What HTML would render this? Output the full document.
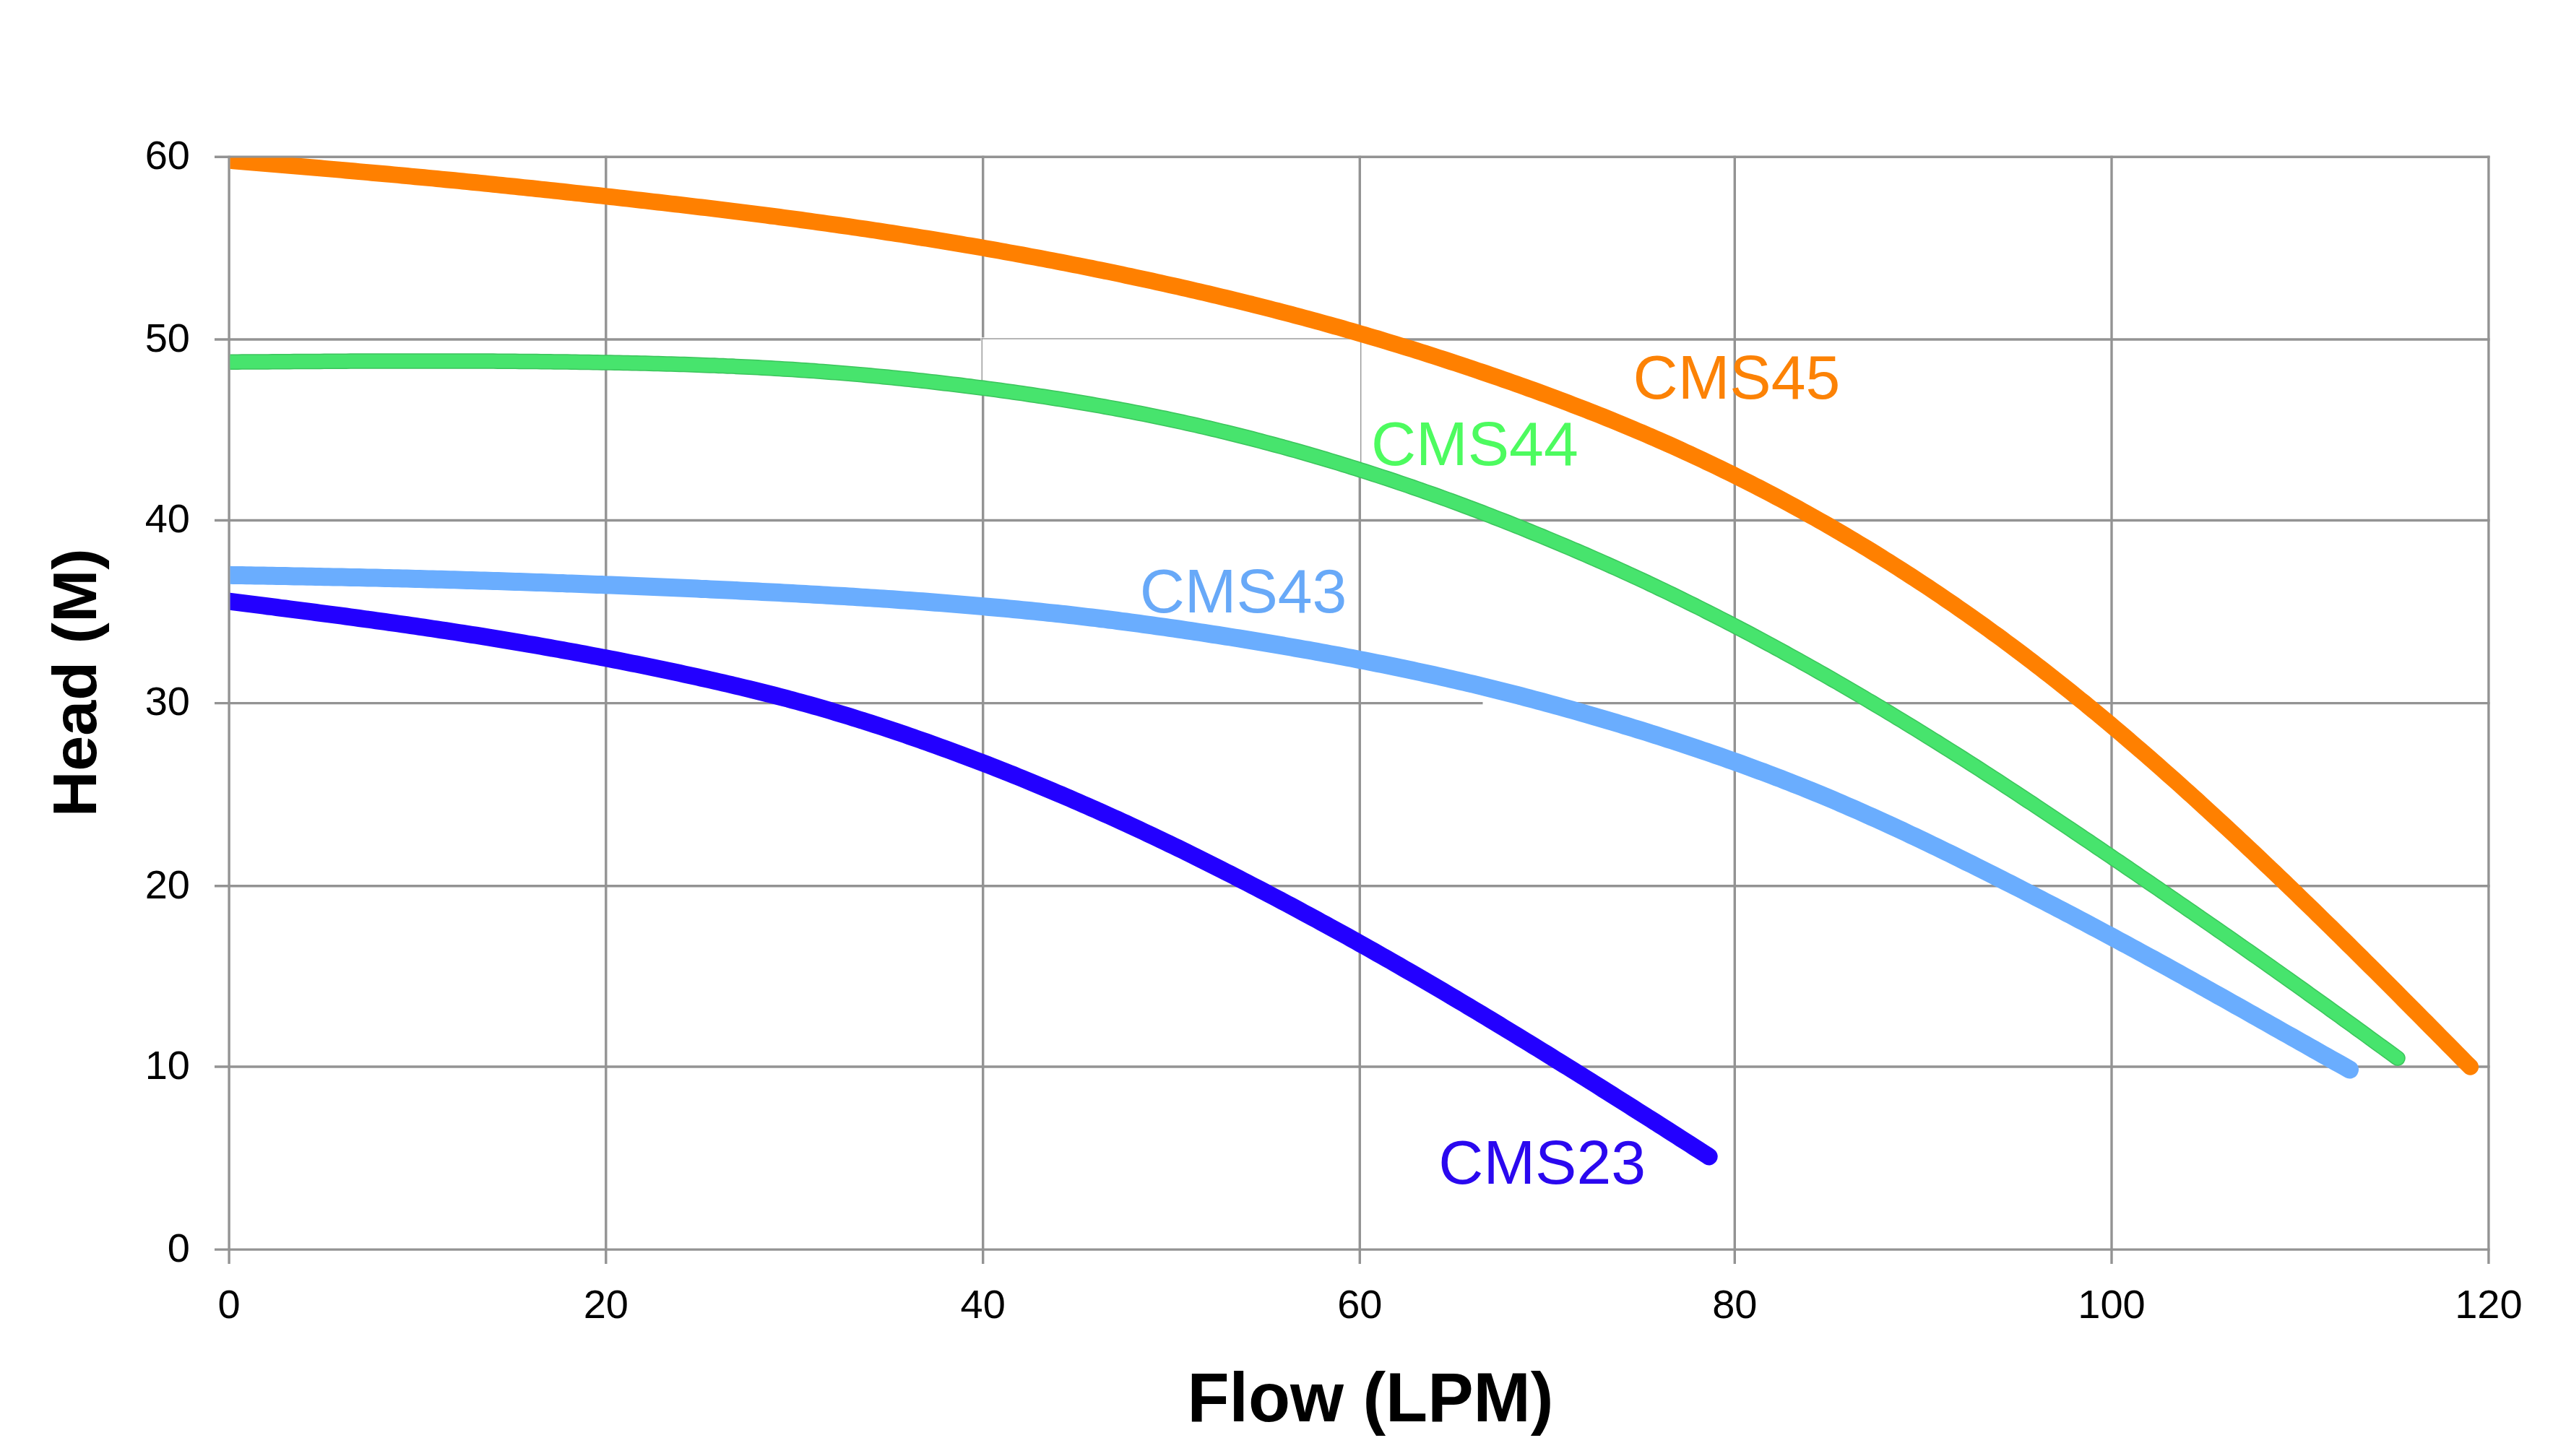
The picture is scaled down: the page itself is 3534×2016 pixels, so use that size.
<!DOCTYPE html>
<html><head><meta charset="utf-8"><title>Pump curves</title>
<style>
html,body{margin:0;padding:0;background:#fff;}
svg{display:block;}
text{font-family:"Liberation Sans",sans-serif;}
</style></head>
<body>
<svg width="3534" height="2016" viewBox="0 0 3534 2016">
<rect width="3534" height="2016" fill="#ffffff"/>
<defs><clipPath id="plot"><rect x="318.6" y="218.6" width="3200" height="1600"/></clipPath></defs>
<g stroke="#939393" stroke-width="3.4" fill="none">
<line x1="297" y1="217.2" x2="3446.5" y2="217.2"/>
<line x1="297" y1="470.0" x2="3446.5" y2="470.0"/>
<line x1="297" y1="720.5" x2="3446.5" y2="720.5"/>
<line x1="297" y1="973.6" x2="3446.5" y2="973.6"/>
<line x1="297" y1="1226.8" x2="3446.5" y2="1226.8"/>
<line x1="297" y1="1477.0" x2="3446.5" y2="1477.0"/>
<line x1="297" y1="1730.1" x2="3446.5" y2="1730.1"/>
<line x1="317.1" y1="215.7" x2="317.1" y2="1750"/>
<line x1="838.8" y1="215.7" x2="838.8" y2="1750"/>
<line x1="1360.7" y1="215.7" x2="1360.7" y2="1750"/>
<line x1="1882.3" y1="215.7" x2="1882.3" y2="1750"/>
<line x1="2401.3" y1="215.7" x2="2401.3" y2="1750"/>
<line x1="2923.0" y1="215.7" x2="2923.0" y2="1750"/>
<line x1="3444.9" y1="215.7" x2="3444.9" y2="1750"/>
</g>
<polygon fill="#fff" points="1357.6,467.2 1885.2,467.2 1885.2,651.4 1876.3,648.5 1867.3,645.8 1858.4,643.0 1849.4,640.3 1840.5,637.6 1831.5,634.9 1822.6,632.2 1813.7,629.6 1804.7,627.1 1795.8,624.5 1786.8,622.0 1777.9,619.5 1768.9,617.1 1760.0,614.7 1751.1,612.3 1742.1,609.9 1733.2,607.6 1724.2,605.3 1715.3,603.0 1706.4,600.8 1697.4,598.6 1688.5,596.5 1679.5,594.3 1670.6,592.2 1661.6,590.1 1652.7,588.1 1643.8,586.1 1634.8,584.1 1625.9,582.2 1616.9,580.3 1608.0,578.4 1599.0,576.5 1590.1,574.7 1581.2,572.9 1572.2,571.2 1563.3,569.5 1554.3,567.8 1545.4,566.1 1536.4,564.5 1527.5,562.8 1518.6,561.3 1509.6,559.7 1500.7,558.2 1491.7,556.7 1482.8,555.2 1473.9,553.7 1464.9,552.3 1456.0,550.9 1447.0,549.5 1438.1,548.1 1429.1,546.8 1420.2,545.5 1411.3,544.2 1402.3,542.9 1393.4,541.7 1384.4,540.5 1375.5,539.3 1366.5,538.1 1357.6,536.9"/><g stroke="#9c9c9c" stroke-width="1.5" fill="none"><line x1="1358.6" y1="468.9" x2="1884.4" y2="468.9"/><line x1="1359.3" y1="468.2" x2="1359.3" y2="537.1"/><line x1="1883.7" y1="468.2" x2="1883.7" y2="650.9"/></g><rect x="2052.5" y="970" width="48" height="7.5" fill="#fff"/>
<g fill="none" stroke-linecap="round" stroke-linejoin="round" clip-path="url(#plot)">
<path d="M317.0 222.2 L323.0 222.7 L329.0 223.2 L335.0 223.7 L341.0 224.2 L347.0 224.7 L353.0 225.2 L359.0 225.7 L365.0 226.2 L371.0 226.7 L377.0 227.2 L383.0 227.7 L389.0 228.2 L395.0 228.7 L401.0 229.3 L407.0 229.8 L413.0 230.3 L419.0 230.8 L425.0 231.3 L431.0 231.8 L437.0 232.3 L443.0 232.8 L449.0 233.4 L455.0 233.9 L461.0 234.4 L467.0 234.9 L473.0 235.4 L479.0 236.0 L485.0 236.5 L491.0 237.0 L497.0 237.6 L503.0 238.1 L509.0 238.6 L515.0 239.2 L521.0 239.7 L527.0 240.2 L533.0 240.8 L539.0 241.3 L545.0 241.9 L551.0 242.4 L557.0 243.0 L563.0 243.5 L569.0 244.1 L575.0 244.7 L581.0 245.2 L587.0 245.8 L593.0 246.4 L599.0 246.9 L605.0 247.5 L611.0 248.1 L617.0 248.7 L623.0 249.3 L629.0 249.8 L635.0 250.4 L641.0 251.0 L647.0 251.6 L653.0 252.2 L659.0 252.8 L665.0 253.4 L671.0 254.0 L677.0 254.6 L683.0 255.2 L689.0 255.9 L695.0 256.5 L701.0 257.1 L707.0 257.7 L713.0 258.3 L719.0 259.0 L725.0 259.6 L731.0 260.2 L737.0 260.8 L743.0 261.5 L749.0 262.1 L755.0 262.7 L761.0 263.4 L767.0 264.0 L773.0 264.7 L779.0 265.3 L785.0 266.0 L791.0 266.6 L797.0 267.3 L803.0 267.9 L809.0 268.6 L815.0 269.2 L821.0 269.9 L827.0 270.5 L833.0 271.2 L839.0 271.9 L845.0 272.5 L851.0 273.2 L857.0 273.9 L863.0 274.5 L869.0 275.2 L875.0 275.9 L881.0 276.6 L887.0 277.2 L893.0 277.9 L899.0 278.6 L905.0 279.3 L911.0 280.0 L917.0 280.7 L923.0 281.4 L929.0 282.1 L935.0 282.7 L941.0 283.4 L947.0 284.2 L953.0 284.9 L959.0 285.6 L965.0 286.3 L971.0 287.0 L977.0 287.7 L983.0 288.4 L989.0 289.2 L995.0 289.9 L1001.0 290.6 L1007.0 291.4 L1013.0 292.1 L1019.0 292.9 L1025.0 293.6 L1031.0 294.4 L1037.0 295.1 L1043.0 295.9 L1049.0 296.6 L1055.0 297.4 L1061.0 298.2 L1067.0 299.0 L1073.0 299.7 L1079.0 300.5 L1085.0 301.3 L1091.0 302.1 L1097.0 302.9 L1103.0 303.7 L1109.0 304.5 L1115.0 305.3 L1121.0 306.1 L1127.0 307.0 L1133.0 307.8 L1139.0 308.6 L1145.0 309.5 L1151.0 310.3 L1157.0 311.2 L1163.0 312.0 L1169.0 312.9 L1175.0 313.7 L1181.0 314.6 L1187.0 315.5 L1193.0 316.4 L1199.0 317.2 L1205.0 318.1 L1211.0 319.0 L1217.0 319.9 L1223.0 320.8 L1229.0 321.8 L1235.0 322.7 L1241.0 323.6 L1247.0 324.5 L1253.0 325.5 L1259.0 326.4 L1265.0 327.3 L1271.0 328.3 L1277.0 329.3 L1283.0 330.2 L1289.0 331.2 L1295.0 332.2 L1301.0 333.1 L1307.0 334.1 L1313.0 335.1 L1319.0 336.1 L1325.0 337.1 L1331.0 338.1 L1337.0 339.2 L1343.0 340.2 L1349.0 341.2 L1355.0 342.2 L1361.0 343.3 L1367.0 344.3 L1373.0 345.4 L1379.0 346.4 L1385.0 347.5 L1391.0 348.6 L1397.0 349.7 L1403.0 350.8 L1409.0 351.8 L1415.0 352.9 L1421.0 354.1 L1427.0 355.2 L1433.0 356.3 L1439.0 357.4 L1445.0 358.5 L1451.0 359.7 L1457.0 360.8 L1463.0 362.0 L1469.0 363.1 L1475.0 364.3 L1481.0 365.5 L1487.0 366.7 L1493.0 367.8 L1499.0 369.0 L1505.0 370.2 L1511.0 371.4 L1517.0 372.7 L1523.0 373.9 L1529.0 375.1 L1535.0 376.3 L1541.0 377.6 L1547.0 378.8 L1553.0 380.1 L1559.0 381.4 L1565.0 382.6 L1571.0 383.9 L1577.0 385.2 L1583.0 386.5 L1589.0 387.8 L1595.0 389.1 L1601.0 390.4 L1607.0 391.7 L1613.0 393.1 L1619.0 394.4 L1625.0 395.8 L1631.0 397.1 L1637.0 398.5 L1643.0 399.8 L1649.0 401.2 L1655.0 402.6 L1661.0 404.0 L1667.0 405.4 L1673.0 406.8 L1679.0 408.2 L1685.0 409.6 L1691.0 411.1 L1697.0 412.5 L1703.0 414.0 L1709.0 415.4 L1715.0 416.9 L1721.0 418.4 L1727.0 419.9 L1733.0 421.3 L1739.0 422.9 L1745.0 424.4 L1751.0 425.9 L1757.0 427.4 L1763.0 429.0 L1769.0 430.5 L1775.0 432.1 L1781.0 433.6 L1787.0 435.2 L1793.0 436.8 L1799.0 438.4 L1805.0 440.0 L1811.0 441.6 L1817.0 443.3 L1823.0 444.9 L1829.0 446.5 L1835.0 448.2 L1841.0 449.9 L1847.0 451.6 L1853.0 453.2 L1859.0 454.9 L1865.0 456.7 L1871.0 458.4 L1877.0 460.1 L1883.0 461.9 L1889.0 463.6 L1895.0 465.4 L1901.0 467.2 L1907.0 468.9 L1913.0 470.7 L1919.0 472.6 L1925.0 474.4 L1931.0 476.2 L1937.0 478.1 L1943.0 479.9 L1949.0 481.8 L1955.0 483.6 L1961.0 485.5 L1967.0 487.4 L1973.0 489.3 L1979.0 491.2 L1985.0 493.2 L1991.0 495.1 L1997.0 497.0 L2003.0 499.0 L2009.0 501.0 L2015.0 502.9 L2021.0 504.9 L2027.0 506.9 L2033.0 508.9 L2039.0 510.9 L2045.0 513.0 L2051.0 515.0 L2057.0 517.0 L2063.0 519.1 L2069.0 521.2 L2075.0 523.2 L2081.0 525.3 L2087.0 527.4 L2093.0 529.5 L2099.0 531.6 L2105.0 533.8 L2111.0 535.9 L2117.0 538.1 L2123.0 540.2 L2129.0 542.4 L2135.0 544.6 L2141.0 546.8 L2147.0 549.0 L2153.0 551.3 L2159.0 553.5 L2165.0 555.8 L2171.0 558.1 L2177.0 560.4 L2183.0 562.7 L2189.0 565.0 L2195.0 567.3 L2201.0 569.7 L2207.0 572.0 L2213.0 574.4 L2219.0 576.8 L2225.0 579.2 L2231.0 581.7 L2237.0 584.1 L2243.0 586.6 L2249.0 589.1 L2255.0 591.6 L2261.0 594.1 L2267.0 596.7 L2273.0 599.2 L2279.0 601.8 L2285.0 604.4 L2291.0 607.0 L2297.0 609.6 L2303.0 612.3 L2309.0 614.9 L2315.0 617.6 L2321.0 620.3 L2327.0 623.0 L2333.0 625.8 L2339.0 628.5 L2345.0 631.3 L2351.0 634.1 L2357.0 636.9 L2363.0 639.8 L2369.0 642.6 L2375.0 645.5 L2381.0 648.4 L2387.0 651.3 L2393.0 654.3 L2399.0 657.2 L2405.0 660.2 L2411.0 663.2 L2417.0 666.2 L2423.0 669.3 L2429.0 672.4 L2435.0 675.4 L2441.0 678.5 L2447.0 681.7 L2453.0 684.8 L2459.0 688.0 L2465.0 691.2 L2471.0 694.4 L2477.0 697.6 L2483.0 700.9 L2489.0 704.2 L2495.0 707.5 L2501.0 710.8 L2507.0 714.2 L2513.0 717.5 L2519.0 720.9 L2525.0 724.3 L2531.0 727.8 L2537.0 731.2 L2543.0 734.7 L2549.0 738.2 L2555.0 741.7 L2561.0 745.3 L2567.0 748.9 L2573.0 752.5 L2579.0 756.1 L2585.0 759.7 L2591.0 763.4 L2597.0 767.1 L2603.0 770.8 L2609.0 774.6 L2615.0 778.3 L2621.0 782.1 L2627.0 785.9 L2633.0 789.7 L2639.0 793.6 L2645.0 797.5 L2651.0 801.4 L2657.0 805.3 L2663.0 809.3 L2669.0 813.2 L2675.0 817.2 L2681.0 821.3 L2687.0 825.3 L2693.0 829.4 L2699.0 833.5 L2705.0 837.6 L2711.0 841.8 L2717.0 845.9 L2723.0 850.1 L2729.0 854.4 L2735.0 858.6 L2741.0 862.9 L2747.0 867.2 L2753.0 871.5 L2759.0 875.9 L2765.0 880.2 L2771.0 884.6 L2777.0 889.1 L2783.0 893.5 L2789.0 898.0 L2795.0 902.5 L2801.0 907.0 L2807.0 911.6 L2813.0 916.2 L2819.0 920.8 L2825.0 925.4 L2831.0 930.1 L2837.0 934.8 L2843.0 939.5 L2849.0 944.2 L2855.0 949.0 L2861.0 953.8 L2867.0 958.6 L2873.0 963.4 L2879.0 968.3 L2885.0 973.1 L2891.0 978.1 L2897.0 983.0 L2903.0 987.9 L2909.0 992.9 L2915.0 997.9 L2921.0 1002.9 L2927.0 1008.0 L2933.0 1013.1 L2939.0 1018.1 L2945.0 1023.3 L2951.0 1028.4 L2957.0 1033.6 L2963.0 1038.7 L2969.0 1043.9 L2975.0 1049.2 L2981.0 1054.4 L2987.0 1059.7 L2993.0 1065.0 L2999.0 1070.3 L3005.0 1075.6 L3011.0 1080.9 L3017.0 1086.3 L3023.0 1091.7 L3029.0 1097.1 L3035.0 1102.5 L3041.0 1107.9 L3047.0 1113.4 L3053.0 1118.9 L3059.0 1124.4 L3065.0 1129.9 L3071.0 1135.4 L3077.0 1141.0 L3083.0 1146.5 L3089.0 1152.1 L3095.0 1157.7 L3101.0 1163.3 L3107.0 1168.9 L3113.0 1174.6 L3119.0 1180.2 L3125.0 1185.9 L3131.0 1191.6 L3137.0 1197.3 L3143.0 1203.0 L3149.0 1208.7 L3155.0 1214.5 L3161.0 1220.2 L3167.0 1226.0 L3173.0 1231.8 L3179.0 1237.6 L3185.0 1243.4 L3191.0 1249.2 L3197.0 1255.0 L3203.0 1260.8 L3209.0 1266.7 L3215.0 1272.6 L3221.0 1278.4 L3227.0 1284.3 L3233.0 1290.2 L3239.0 1296.1 L3245.0 1302.0 L3251.0 1308.0 L3257.0 1313.9 L3263.0 1319.9 L3269.0 1325.8 L3275.0 1331.8 L3281.0 1337.7 L3287.0 1343.7 L3293.0 1349.7 L3299.0 1355.7 L3305.0 1361.7 L3311.0 1367.7 L3317.0 1373.7 L3323.0 1379.8 L3329.0 1385.8 L3335.0 1391.8 L3341.0 1397.9 L3347.0 1403.9 L3353.0 1410.0 L3359.0 1416.0 L3365.0 1422.1 L3371.0 1428.1 L3377.0 1434.2 L3383.0 1440.3 L3389.0 1446.4 L3395.0 1452.4 L3401.0 1458.5 L3407.0 1464.6 L3413.0 1470.7 L3419.0 1476.7 L3419.5 1477.2" stroke="#ff8000" stroke-width="23"/>
<path d="M317.0 501.3 L323.0 501.2 L329.0 501.2 L335.0 501.1 L341.0 501.1 L347.0 501.1 L353.0 501.0 L359.0 501.0 L365.0 500.9 L371.0 500.9 L377.0 500.8 L383.0 500.8 L389.0 500.7 L395.0 500.7 L401.0 500.7 L407.0 500.6 L413.0 500.6 L419.0 500.5 L425.0 500.5 L431.0 500.5 L437.0 500.4 L443.0 500.4 L449.0 500.3 L455.0 500.3 L461.0 500.3 L467.0 500.2 L473.0 500.2 L479.0 500.2 L485.0 500.1 L491.0 500.1 L497.0 500.1 L503.0 500.1 L509.0 500.0 L515.0 500.0 L521.0 500.0 L527.0 500.0 L533.0 500.0 L539.0 499.9 L545.0 499.9 L551.0 499.9 L557.0 499.9 L563.0 499.9 L569.0 499.9 L575.0 499.9 L581.0 499.9 L587.0 499.9 L593.0 499.9 L599.0 499.9 L605.0 499.9 L611.0 499.9 L617.0 499.9 L623.0 499.9 L629.0 499.9 L635.0 499.9 L641.0 499.9 L647.0 500.0 L653.0 500.0 L659.0 500.0 L665.0 500.0 L671.0 500.1 L677.0 500.1 L683.0 500.1 L689.0 500.2 L695.0 500.2 L701.0 500.3 L707.0 500.3 L713.0 500.3 L719.0 500.4 L725.0 500.4 L731.0 500.5 L737.0 500.6 L743.0 500.6 L749.0 500.7 L755.0 500.7 L761.0 500.8 L767.0 500.9 L773.0 501.0 L779.0 501.0 L785.0 501.1 L791.0 501.2 L797.0 501.3 L803.0 501.4 L809.0 501.5 L815.0 501.6 L821.0 501.7 L827.0 501.8 L833.0 501.9 L839.0 502.0 L845.0 502.1 L851.0 502.2 L857.0 502.3 L863.0 502.4 L869.0 502.6 L875.0 502.7 L881.0 502.8 L887.0 503.0 L893.0 503.1 L899.0 503.3 L905.0 503.4 L911.0 503.6 L917.0 503.7 L923.0 503.9 L929.0 504.1 L935.0 504.3 L941.0 504.4 L947.0 504.6 L953.0 504.8 L959.0 505.0 L965.0 505.2 L971.0 505.4 L977.0 505.7 L983.0 505.9 L989.0 506.1 L995.0 506.4 L1001.0 506.6 L1007.0 506.9 L1013.0 507.1 L1019.0 507.4 L1025.0 507.7 L1031.0 507.9 L1037.0 508.2 L1043.0 508.5 L1049.0 508.8 L1055.0 509.2 L1061.0 509.5 L1067.0 509.8 L1073.0 510.2 L1079.0 510.5 L1085.0 510.9 L1091.0 511.2 L1097.0 511.6 L1103.0 512.0 L1109.0 512.4 L1115.0 512.8 L1121.0 513.2 L1127.0 513.6 L1133.0 514.1 L1139.0 514.5 L1145.0 515.0 L1151.0 515.4 L1157.0 515.9 L1163.0 516.4 L1169.0 516.9 L1175.0 517.4 L1181.0 517.9 L1187.0 518.4 L1193.0 518.9 L1199.0 519.5 L1205.0 520.0 L1211.0 520.6 L1217.0 521.1 L1223.0 521.7 L1229.0 522.3 L1235.0 522.9 L1241.0 523.5 L1247.0 524.1 L1253.0 524.7 L1259.0 525.3 L1265.0 526.0 L1271.0 526.6 L1277.0 527.3 L1283.0 527.9 L1289.0 528.6 L1295.0 529.3 L1301.0 530.0 L1307.0 530.7 L1313.0 531.4 L1319.0 532.1 L1325.0 532.8 L1331.0 533.5 L1337.0 534.3 L1343.0 535.0 L1349.0 535.8 L1355.0 536.6 L1361.0 537.3 L1367.0 538.1 L1373.0 538.9 L1379.0 539.7 L1385.0 540.5 L1391.0 541.4 L1397.0 542.2 L1403.0 543.0 L1409.0 543.9 L1415.0 544.7 L1421.0 545.6 L1427.0 546.5 L1433.0 547.4 L1439.0 548.3 L1445.0 549.2 L1451.0 550.1 L1457.0 551.1 L1463.0 552.0 L1469.0 552.9 L1475.0 553.9 L1481.0 554.9 L1487.0 555.9 L1493.0 556.9 L1499.0 557.9 L1505.0 558.9 L1511.0 559.9 L1517.0 561.0 L1523.0 562.0 L1529.0 563.1 L1535.0 564.2 L1541.0 565.3 L1547.0 566.4 L1553.0 567.5 L1559.0 568.6 L1565.0 569.8 L1571.0 571.0 L1577.0 572.1 L1583.0 573.3 L1589.0 574.5 L1595.0 575.7 L1601.0 577.0 L1607.0 578.2 L1613.0 579.4 L1619.0 580.7 L1625.0 582.0 L1631.0 583.3 L1637.0 584.6 L1643.0 585.9 L1649.0 587.3 L1655.0 588.6 L1661.0 590.0 L1667.0 591.4 L1673.0 592.8 L1679.0 594.2 L1685.0 595.6 L1691.0 597.1 L1697.0 598.5 L1703.0 600.0 L1709.0 601.5 L1715.0 603.0 L1721.0 604.5 L1727.0 606.0 L1733.0 607.5 L1739.0 609.1 L1745.0 610.7 L1751.0 612.3 L1757.0 613.9 L1763.0 615.5 L1769.0 617.1 L1775.0 618.7 L1781.0 620.4 L1787.0 622.1 L1793.0 623.7 L1799.0 625.4 L1805.0 627.1 L1811.0 628.9 L1817.0 630.6 L1823.0 632.4 L1829.0 634.1 L1835.0 635.9 L1841.0 637.7 L1847.0 639.5 L1853.0 641.3 L1859.0 643.2 L1865.0 645.0 L1871.0 646.9 L1877.0 648.8 L1883.0 650.7 L1889.0 652.6 L1895.0 654.5 L1901.0 656.4 L1907.0 658.4 L1913.0 660.4 L1919.0 662.3 L1925.0 664.3 L1931.0 666.3 L1937.0 668.4 L1943.0 670.4 L1949.0 672.4 L1955.0 674.5 L1961.0 676.6 L1967.0 678.7 L1973.0 680.8 L1979.0 682.9 L1985.0 685.0 L1991.0 687.2 L1997.0 689.3 L2003.0 691.5 L2009.0 693.7 L2015.0 695.9 L2021.0 698.1 L2027.0 700.4 L2033.0 702.6 L2039.0 704.9 L2045.0 707.1 L2051.0 709.4 L2057.0 711.7 L2063.0 714.0 L2069.0 716.4 L2075.0 718.7 L2081.0 721.1 L2087.0 723.4 L2093.0 725.8 L2099.0 728.2 L2105.0 730.6 L2111.0 733.0 L2117.0 735.5 L2123.0 737.9 L2129.0 740.4 L2135.0 742.8 L2141.0 745.3 L2147.0 747.8 L2153.0 750.3 L2159.0 752.8 L2165.0 755.4 L2171.0 757.9 L2177.0 760.5 L2183.0 763.0 L2189.0 765.6 L2195.0 768.2 L2201.0 770.8 L2207.0 773.5 L2213.0 776.1 L2219.0 778.8 L2225.0 781.4 L2231.0 784.1 L2237.0 786.8 L2243.0 789.5 L2249.0 792.3 L2255.0 795.0 L2261.0 797.8 L2267.0 800.5 L2273.0 803.3 L2279.0 806.1 L2285.0 809.0 L2291.0 811.8 L2297.0 814.7 L2303.0 817.5 L2309.0 820.4 L2315.0 823.3 L2321.0 826.2 L2327.0 829.2 L2333.0 832.1 L2339.0 835.1 L2345.0 838.0 L2351.0 841.0 L2357.0 844.0 L2363.0 847.1 L2369.0 850.1 L2375.0 853.1 L2381.0 856.2 L2387.0 859.3 L2393.0 862.4 L2399.0 865.5 L2405.0 868.6 L2411.0 871.8 L2417.0 874.9 L2423.0 878.1 L2429.0 881.3 L2435.0 884.5 L2441.0 887.7 L2447.0 890.9 L2453.0 894.2 L2459.0 897.4 L2465.0 900.7 L2471.0 904.0 L2477.0 907.3 L2483.0 910.6 L2489.0 913.9 L2495.0 917.3 L2501.0 920.6 L2507.0 924.0 L2513.0 927.4 L2519.0 930.8 L2525.0 934.2 L2531.0 937.6 L2537.0 941.1 L2543.0 944.5 L2549.0 948.0 L2555.0 951.5 L2561.0 955.0 L2567.0 958.5 L2573.0 962.0 L2579.0 965.5 L2585.0 969.1 L2591.0 972.6 L2597.0 976.2 L2603.0 979.8 L2609.0 983.4 L2615.0 987.0 L2621.0 990.6 L2627.0 994.3 L2633.0 997.9 L2639.0 1001.6 L2645.0 1005.2 L2651.0 1008.9 L2657.0 1012.6 L2663.0 1016.3 L2669.0 1020.1 L2675.0 1023.8 L2681.0 1027.5 L2687.0 1031.3 L2693.0 1035.1 L2699.0 1038.8 L2705.0 1042.6 L2711.0 1046.4 L2717.0 1050.2 L2723.0 1054.1 L2729.0 1057.9 L2735.0 1061.7 L2741.0 1065.6 L2747.0 1069.5 L2753.0 1073.3 L2759.0 1077.2 L2765.0 1081.1 L2771.0 1085.0 L2777.0 1088.9 L2783.0 1092.9 L2789.0 1096.8 L2795.0 1100.7 L2801.0 1104.7 L2807.0 1108.7 L2813.0 1112.6 L2819.0 1116.6 L2825.0 1120.6 L2831.0 1124.6 L2837.0 1128.6 L2843.0 1132.6 L2849.0 1136.6 L2855.0 1140.6 L2861.0 1144.6 L2867.0 1148.7 L2873.0 1152.7 L2879.0 1156.7 L2885.0 1160.8 L2891.0 1164.8 L2897.0 1168.9 L2903.0 1173.0 L2909.0 1177.0 L2915.0 1181.1 L2921.0 1185.2 L2927.0 1189.3 L2933.0 1193.3 L2939.0 1197.4 L2945.0 1201.5 L2951.0 1205.6 L2957.0 1209.7 L2963.0 1213.8 L2969.0 1217.9 L2975.0 1222.0 L2981.0 1226.1 L2987.0 1230.2 L2993.0 1234.3 L2999.0 1238.4 L3005.0 1242.6 L3011.0 1246.7 L3017.0 1250.8 L3023.0 1254.9 L3029.0 1259.1 L3035.0 1263.2 L3041.0 1267.3 L3047.0 1271.5 L3053.0 1275.6 L3059.0 1279.8 L3065.0 1283.9 L3071.0 1288.1 L3077.0 1292.3 L3083.0 1296.4 L3089.0 1300.6 L3095.0 1304.8 L3101.0 1309.0 L3107.0 1313.2 L3113.0 1317.4 L3119.0 1321.6 L3125.0 1325.8 L3131.0 1330.0 L3137.0 1334.2 L3143.0 1338.5 L3149.0 1342.7 L3155.0 1347.0 L3161.0 1351.2 L3167.0 1355.5 L3173.0 1359.8 L3179.0 1364.0 L3185.0 1368.3 L3191.0 1372.6 L3197.0 1376.9 L3203.0 1381.2 L3209.0 1385.5 L3215.0 1389.8 L3221.0 1394.1 L3227.0 1398.5 L3233.0 1402.8 L3239.0 1407.1 L3245.0 1411.5 L3251.0 1415.8 L3257.0 1420.1 L3263.0 1424.5 L3269.0 1428.8 L3275.0 1433.2 L3281.0 1437.6 L3287.0 1441.9 L3293.0 1446.3 L3299.0 1450.7 L3305.0 1455.0 L3311.0 1459.4 L3317.0 1463.8 L3319.0 1465.2" stroke="#3cc45c" stroke-width="21.5"/>
<path d="M317.0 501.3 L323.0 501.2 L329.0 501.2 L335.0 501.1 L341.0 501.1 L347.0 501.1 L353.0 501.0 L359.0 501.0 L365.0 500.9 L371.0 500.9 L377.0 500.8 L383.0 500.8 L389.0 500.7 L395.0 500.7 L401.0 500.7 L407.0 500.6 L413.0 500.6 L419.0 500.5 L425.0 500.5 L431.0 500.5 L437.0 500.4 L443.0 500.4 L449.0 500.3 L455.0 500.3 L461.0 500.3 L467.0 500.2 L473.0 500.2 L479.0 500.2 L485.0 500.1 L491.0 500.1 L497.0 500.1 L503.0 500.1 L509.0 500.0 L515.0 500.0 L521.0 500.0 L527.0 500.0 L533.0 500.0 L539.0 499.9 L545.0 499.9 L551.0 499.9 L557.0 499.9 L563.0 499.9 L569.0 499.9 L575.0 499.9 L581.0 499.9 L587.0 499.9 L593.0 499.9 L599.0 499.9 L605.0 499.9 L611.0 499.9 L617.0 499.9 L623.0 499.9 L629.0 499.9 L635.0 499.9 L641.0 499.9 L647.0 500.0 L653.0 500.0 L659.0 500.0 L665.0 500.0 L671.0 500.1 L677.0 500.1 L683.0 500.1 L689.0 500.2 L695.0 500.2 L701.0 500.3 L707.0 500.3 L713.0 500.3 L719.0 500.4 L725.0 500.4 L731.0 500.5 L737.0 500.6 L743.0 500.6 L749.0 500.7 L755.0 500.7 L761.0 500.8 L767.0 500.9 L773.0 501.0 L779.0 501.0 L785.0 501.1 L791.0 501.2 L797.0 501.3 L803.0 501.4 L809.0 501.5 L815.0 501.6 L821.0 501.7 L827.0 501.8 L833.0 501.9 L839.0 502.0 L845.0 502.1 L851.0 502.2 L857.0 502.3 L863.0 502.4 L869.0 502.6 L875.0 502.7 L881.0 502.8 L887.0 503.0 L893.0 503.1 L899.0 503.3 L905.0 503.4 L911.0 503.6 L917.0 503.7 L923.0 503.9 L929.0 504.1 L935.0 504.3 L941.0 504.4 L947.0 504.6 L953.0 504.8 L959.0 505.0 L965.0 505.2 L971.0 505.4 L977.0 505.7 L983.0 505.9 L989.0 506.1 L995.0 506.4 L1001.0 506.6 L1007.0 506.9 L1013.0 507.1 L1019.0 507.4 L1025.0 507.7 L1031.0 507.9 L1037.0 508.2 L1043.0 508.5 L1049.0 508.8 L1055.0 509.2 L1061.0 509.5 L1067.0 509.8 L1073.0 510.2 L1079.0 510.5 L1085.0 510.9 L1091.0 511.2 L1097.0 511.6 L1103.0 512.0 L1109.0 512.4 L1115.0 512.8 L1121.0 513.2 L1127.0 513.6 L1133.0 514.1 L1139.0 514.5 L1145.0 515.0 L1151.0 515.4 L1157.0 515.9 L1163.0 516.4 L1169.0 516.9 L1175.0 517.4 L1181.0 517.9 L1187.0 518.4 L1193.0 518.9 L1199.0 519.5 L1205.0 520.0 L1211.0 520.6 L1217.0 521.1 L1223.0 521.7 L1229.0 522.3 L1235.0 522.9 L1241.0 523.5 L1247.0 524.1 L1253.0 524.7 L1259.0 525.3 L1265.0 526.0 L1271.0 526.6 L1277.0 527.3 L1283.0 527.9 L1289.0 528.6 L1295.0 529.3 L1301.0 530.0 L1307.0 530.7 L1313.0 531.4 L1319.0 532.1 L1325.0 532.8 L1331.0 533.5 L1337.0 534.3 L1343.0 535.0 L1349.0 535.8 L1355.0 536.6 L1361.0 537.3 L1367.0 538.1 L1373.0 538.9 L1379.0 539.7 L1385.0 540.5 L1391.0 541.4 L1397.0 542.2 L1403.0 543.0 L1409.0 543.9 L1415.0 544.7 L1421.0 545.6 L1427.0 546.5 L1433.0 547.4 L1439.0 548.3 L1445.0 549.2 L1451.0 550.1 L1457.0 551.1 L1463.0 552.0 L1469.0 552.9 L1475.0 553.9 L1481.0 554.9 L1487.0 555.9 L1493.0 556.9 L1499.0 557.9 L1505.0 558.9 L1511.0 559.9 L1517.0 561.0 L1523.0 562.0 L1529.0 563.1 L1535.0 564.2 L1541.0 565.3 L1547.0 566.4 L1553.0 567.5 L1559.0 568.6 L1565.0 569.8 L1571.0 571.0 L1577.0 572.1 L1583.0 573.3 L1589.0 574.5 L1595.0 575.7 L1601.0 577.0 L1607.0 578.2 L1613.0 579.4 L1619.0 580.7 L1625.0 582.0 L1631.0 583.3 L1637.0 584.6 L1643.0 585.9 L1649.0 587.3 L1655.0 588.6 L1661.0 590.0 L1667.0 591.4 L1673.0 592.8 L1679.0 594.2 L1685.0 595.6 L1691.0 597.1 L1697.0 598.5 L1703.0 600.0 L1709.0 601.5 L1715.0 603.0 L1721.0 604.5 L1727.0 606.0 L1733.0 607.5 L1739.0 609.1 L1745.0 610.7 L1751.0 612.3 L1757.0 613.9 L1763.0 615.5 L1769.0 617.1 L1775.0 618.7 L1781.0 620.4 L1787.0 622.1 L1793.0 623.7 L1799.0 625.4 L1805.0 627.1 L1811.0 628.9 L1817.0 630.6 L1823.0 632.4 L1829.0 634.1 L1835.0 635.9 L1841.0 637.7 L1847.0 639.5 L1853.0 641.3 L1859.0 643.2 L1865.0 645.0 L1871.0 646.9 L1877.0 648.8 L1883.0 650.7 L1889.0 652.6 L1895.0 654.5 L1901.0 656.4 L1907.0 658.4 L1913.0 660.4 L1919.0 662.3 L1925.0 664.3 L1931.0 666.3 L1937.0 668.4 L1943.0 670.4 L1949.0 672.4 L1955.0 674.5 L1961.0 676.6 L1967.0 678.7 L1973.0 680.8 L1979.0 682.9 L1985.0 685.0 L1991.0 687.2 L1997.0 689.3 L2003.0 691.5 L2009.0 693.7 L2015.0 695.9 L2021.0 698.1 L2027.0 700.4 L2033.0 702.6 L2039.0 704.9 L2045.0 707.1 L2051.0 709.4 L2057.0 711.7 L2063.0 714.0 L2069.0 716.4 L2075.0 718.7 L2081.0 721.1 L2087.0 723.4 L2093.0 725.8 L2099.0 728.2 L2105.0 730.6 L2111.0 733.0 L2117.0 735.5 L2123.0 737.9 L2129.0 740.4 L2135.0 742.8 L2141.0 745.3 L2147.0 747.8 L2153.0 750.3 L2159.0 752.8 L2165.0 755.4 L2171.0 757.9 L2177.0 760.5 L2183.0 763.0 L2189.0 765.6 L2195.0 768.2 L2201.0 770.8 L2207.0 773.5 L2213.0 776.1 L2219.0 778.8 L2225.0 781.4 L2231.0 784.1 L2237.0 786.8 L2243.0 789.5 L2249.0 792.3 L2255.0 795.0 L2261.0 797.8 L2267.0 800.5 L2273.0 803.3 L2279.0 806.1 L2285.0 809.0 L2291.0 811.8 L2297.0 814.7 L2303.0 817.5 L2309.0 820.4 L2315.0 823.3 L2321.0 826.2 L2327.0 829.2 L2333.0 832.1 L2339.0 835.1 L2345.0 838.0 L2351.0 841.0 L2357.0 844.0 L2363.0 847.1 L2369.0 850.1 L2375.0 853.1 L2381.0 856.2 L2387.0 859.3 L2393.0 862.4 L2399.0 865.5 L2405.0 868.6 L2411.0 871.8 L2417.0 874.9 L2423.0 878.1 L2429.0 881.3 L2435.0 884.5 L2441.0 887.7 L2447.0 890.9 L2453.0 894.2 L2459.0 897.4 L2465.0 900.7 L2471.0 904.0 L2477.0 907.3 L2483.0 910.6 L2489.0 913.9 L2495.0 917.3 L2501.0 920.6 L2507.0 924.0 L2513.0 927.4 L2519.0 930.8 L2525.0 934.2 L2531.0 937.6 L2537.0 941.1 L2543.0 944.5 L2549.0 948.0 L2555.0 951.5 L2561.0 955.0 L2567.0 958.5 L2573.0 962.0 L2579.0 965.5 L2585.0 969.1 L2591.0 972.6 L2597.0 976.2 L2603.0 979.8 L2609.0 983.4 L2615.0 987.0 L2621.0 990.6 L2627.0 994.3 L2633.0 997.9 L2639.0 1001.6 L2645.0 1005.2 L2651.0 1008.9 L2657.0 1012.6 L2663.0 1016.3 L2669.0 1020.1 L2675.0 1023.8 L2681.0 1027.5 L2687.0 1031.3 L2693.0 1035.1 L2699.0 1038.8 L2705.0 1042.6 L2711.0 1046.4 L2717.0 1050.2 L2723.0 1054.1 L2729.0 1057.9 L2735.0 1061.7 L2741.0 1065.6 L2747.0 1069.5 L2753.0 1073.3 L2759.0 1077.2 L2765.0 1081.1 L2771.0 1085.0 L2777.0 1088.9 L2783.0 1092.9 L2789.0 1096.8 L2795.0 1100.7 L2801.0 1104.7 L2807.0 1108.7 L2813.0 1112.6 L2819.0 1116.6 L2825.0 1120.6 L2831.0 1124.6 L2837.0 1128.6 L2843.0 1132.6 L2849.0 1136.6 L2855.0 1140.6 L2861.0 1144.6 L2867.0 1148.7 L2873.0 1152.7 L2879.0 1156.7 L2885.0 1160.8 L2891.0 1164.8 L2897.0 1168.9 L2903.0 1173.0 L2909.0 1177.0 L2915.0 1181.1 L2921.0 1185.2 L2927.0 1189.3 L2933.0 1193.3 L2939.0 1197.4 L2945.0 1201.5 L2951.0 1205.6 L2957.0 1209.7 L2963.0 1213.8 L2969.0 1217.9 L2975.0 1222.0 L2981.0 1226.1 L2987.0 1230.2 L2993.0 1234.3 L2999.0 1238.4 L3005.0 1242.6 L3011.0 1246.7 L3017.0 1250.8 L3023.0 1254.9 L3029.0 1259.1 L3035.0 1263.2 L3041.0 1267.3 L3047.0 1271.5 L3053.0 1275.6 L3059.0 1279.8 L3065.0 1283.9 L3071.0 1288.1 L3077.0 1292.3 L3083.0 1296.4 L3089.0 1300.6 L3095.0 1304.8 L3101.0 1309.0 L3107.0 1313.2 L3113.0 1317.4 L3119.0 1321.6 L3125.0 1325.8 L3131.0 1330.0 L3137.0 1334.2 L3143.0 1338.5 L3149.0 1342.7 L3155.0 1347.0 L3161.0 1351.2 L3167.0 1355.5 L3173.0 1359.8 L3179.0 1364.0 L3185.0 1368.3 L3191.0 1372.6 L3197.0 1376.9 L3203.0 1381.2 L3209.0 1385.5 L3215.0 1389.8 L3221.0 1394.1 L3227.0 1398.5 L3233.0 1402.8 L3239.0 1407.1 L3245.0 1411.5 L3251.0 1415.8 L3257.0 1420.1 L3263.0 1424.5 L3269.0 1428.8 L3275.0 1433.2 L3281.0 1437.6 L3287.0 1441.9 L3293.0 1446.3 L3299.0 1450.7 L3305.0 1455.0 L3311.0 1459.4 L3317.0 1463.8 L3319.0 1465.2" stroke="#47e46d" stroke-width="18.5"/>
<path d="M317.0 796.3 L323.0 796.4 L329.0 796.5 L335.0 796.6 L341.0 796.7 L347.0 796.8 L353.0 796.9 L359.0 797.0 L365.0 797.1 L371.0 797.2 L377.0 797.3 L383.0 797.4 L389.0 797.5 L395.0 797.6 L401.0 797.8 L407.0 797.9 L413.0 798.0 L419.0 798.1 L425.0 798.2 L431.0 798.3 L437.0 798.4 L443.0 798.5 L449.0 798.7 L455.0 798.8 L461.0 798.9 L467.0 799.0 L473.0 799.1 L479.0 799.3 L485.0 799.4 L491.0 799.5 L497.0 799.6 L503.0 799.8 L509.0 799.9 L515.0 800.0 L521.0 800.1 L527.0 800.3 L533.0 800.4 L539.0 800.5 L545.0 800.7 L551.0 800.8 L557.0 801.0 L563.0 801.1 L569.0 801.3 L575.0 801.4 L581.0 801.6 L587.0 801.7 L593.0 801.9 L599.0 802.0 L605.0 802.2 L611.0 802.3 L617.0 802.5 L623.0 802.7 L629.0 802.8 L635.0 803.0 L641.0 803.2 L647.0 803.4 L653.0 803.5 L659.0 803.7 L665.0 803.9 L671.0 804.1 L677.0 804.2 L683.0 804.4 L689.0 804.6 L695.0 804.8 L701.0 805.0 L707.0 805.2 L713.0 805.4 L719.0 805.6 L725.0 805.8 L731.0 806.0 L737.0 806.2 L743.0 806.4 L749.0 806.6 L755.0 806.8 L761.0 807.0 L767.0 807.2 L773.0 807.4 L779.0 807.6 L785.0 807.9 L791.0 808.1 L797.0 808.3 L803.0 808.5 L809.0 808.7 L815.0 809.0 L821.0 809.2 L827.0 809.4 L833.0 809.6 L839.0 809.9 L845.0 810.1 L851.0 810.3 L857.0 810.6 L863.0 810.8 L869.0 811.0 L875.0 811.3 L881.0 811.5 L887.0 811.8 L893.0 812.0 L899.0 812.2 L905.0 812.5 L911.0 812.7 L917.0 813.0 L923.0 813.2 L929.0 813.5 L935.0 813.8 L941.0 814.0 L947.0 814.3 L953.0 814.5 L959.0 814.8 L965.0 815.1 L971.0 815.4 L977.0 815.6 L983.0 815.9 L989.0 816.2 L995.0 816.5 L1001.0 816.7 L1007.0 817.0 L1013.0 817.3 L1019.0 817.6 L1025.0 817.9 L1031.0 818.2 L1037.0 818.5 L1043.0 818.8 L1049.0 819.1 L1055.0 819.4 L1061.0 819.7 L1067.0 820.0 L1073.0 820.3 L1079.0 820.6 L1085.0 820.9 L1091.0 821.2 L1097.0 821.5 L1103.0 821.9 L1109.0 822.2 L1115.0 822.5 L1121.0 822.9 L1127.0 823.2 L1133.0 823.5 L1139.0 823.9 L1145.0 824.2 L1151.0 824.6 L1157.0 824.9 L1163.0 825.3 L1169.0 825.6 L1175.0 826.0 L1181.0 826.3 L1187.0 826.7 L1193.0 827.1 L1199.0 827.5 L1205.0 827.9 L1211.0 828.2 L1217.0 828.6 L1223.0 829.0 L1229.0 829.4 L1235.0 829.8 L1241.0 830.2 L1247.0 830.7 L1253.0 831.1 L1259.0 831.5 L1265.0 831.9 L1271.0 832.4 L1277.0 832.8 L1283.0 833.3 L1289.0 833.7 L1295.0 834.2 L1301.0 834.6 L1307.0 835.1 L1313.0 835.6 L1319.0 836.1 L1325.0 836.6 L1331.0 837.1 L1337.0 837.6 L1343.0 838.1 L1349.0 838.6 L1355.0 839.1 L1361.0 839.6 L1367.0 840.2 L1373.0 840.7 L1379.0 841.2 L1385.0 841.8 L1391.0 842.3 L1397.0 842.9 L1403.0 843.5 L1409.0 844.0 L1415.0 844.6 L1421.0 845.2 L1427.0 845.8 L1433.0 846.4 L1439.0 847.0 L1445.0 847.6 L1451.0 848.3 L1457.0 848.9 L1463.0 849.5 L1469.0 850.2 L1475.0 850.8 L1481.0 851.5 L1487.0 852.2 L1493.0 852.9 L1499.0 853.6 L1505.0 854.3 L1511.0 855.0 L1517.0 855.7 L1523.0 856.5 L1529.0 857.2 L1535.0 858.0 L1541.0 858.7 L1547.0 859.5 L1553.0 860.3 L1559.0 861.0 L1565.0 861.8 L1571.0 862.6 L1577.0 863.4 L1583.0 864.3 L1589.0 865.1 L1595.0 865.9 L1601.0 866.8 L1607.0 867.6 L1613.0 868.4 L1619.0 869.3 L1625.0 870.2 L1631.0 871.0 L1637.0 871.9 L1643.0 872.8 L1649.0 873.7 L1655.0 874.6 L1661.0 875.5 L1667.0 876.4 L1673.0 877.3 L1679.0 878.3 L1685.0 879.2 L1691.0 880.1 L1697.0 881.1 L1703.0 882.0 L1709.0 883.0 L1715.0 883.9 L1721.0 884.9 L1727.0 885.9 L1733.0 886.9 L1739.0 887.9 L1745.0 888.9 L1751.0 889.9 L1757.0 890.9 L1763.0 891.9 L1769.0 892.9 L1775.0 893.9 L1781.0 895.0 L1787.0 896.0 L1793.0 897.1 L1799.0 898.1 L1805.0 899.2 L1811.0 900.2 L1817.0 901.3 L1823.0 902.4 L1829.0 903.5 L1835.0 904.6 L1841.0 905.7 L1847.0 906.8 L1853.0 907.9 L1859.0 909.1 L1865.0 910.2 L1871.0 911.3 L1877.0 912.5 L1883.0 913.7 L1889.0 914.8 L1895.0 916.0 L1901.0 917.2 L1907.0 918.4 L1913.0 919.6 L1919.0 920.8 L1925.0 922.0 L1931.0 923.3 L1937.0 924.5 L1943.0 925.8 L1949.0 927.0 L1955.0 928.3 L1961.0 929.6 L1967.0 930.9 L1973.0 932.2 L1979.0 933.5 L1985.0 934.8 L1991.0 936.2 L1997.0 937.5 L2003.0 938.9 L2009.0 940.2 L2015.0 941.6 L2021.0 943.0 L2027.0 944.4 L2033.0 945.8 L2039.0 947.2 L2045.0 948.7 L2051.0 950.1 L2057.0 951.6 L2063.0 953.1 L2069.0 954.6 L2075.0 956.1 L2081.0 957.6 L2087.0 959.1 L2093.0 960.6 L2099.0 962.2 L2105.0 963.7 L2111.0 965.3 L2117.0 966.9 L2123.0 968.5 L2129.0 970.1 L2135.0 971.7 L2141.0 973.3 L2147.0 975.0 L2153.0 976.6 L2159.0 978.3 L2165.0 980.0 L2171.0 981.6 L2177.0 983.3 L2183.0 985.0 L2189.0 986.8 L2195.0 988.5 L2201.0 990.2 L2207.0 992.0 L2213.0 993.7 L2219.0 995.5 L2225.0 997.3 L2231.0 999.0 L2237.0 1000.8 L2243.0 1002.6 L2249.0 1004.5 L2255.0 1006.3 L2261.0 1008.1 L2267.0 1010.0 L2273.0 1011.8 L2279.0 1013.7 L2285.0 1015.6 L2291.0 1017.5 L2297.0 1019.4 L2303.0 1021.3 L2309.0 1023.3 L2315.0 1025.2 L2321.0 1027.2 L2327.0 1029.1 L2333.0 1031.1 L2339.0 1033.1 L2345.0 1035.1 L2351.0 1037.1 L2357.0 1039.2 L2363.0 1041.2 L2369.0 1043.3 L2375.0 1045.4 L2381.0 1047.4 L2387.0 1049.5 L2393.0 1051.7 L2399.0 1053.8 L2405.0 1055.9 L2411.0 1058.1 L2417.0 1060.3 L2423.0 1062.5 L2429.0 1064.7 L2435.0 1066.9 L2441.0 1069.1 L2447.0 1071.4 L2453.0 1073.7 L2459.0 1075.9 L2465.0 1078.2 L2471.0 1080.6 L2477.0 1082.9 L2483.0 1085.3 L2489.0 1087.6 L2495.0 1090.0 L2501.0 1092.5 L2507.0 1094.9 L2513.0 1097.3 L2519.0 1099.8 L2525.0 1102.3 L2531.0 1104.8 L2537.0 1107.3 L2543.0 1109.9 L2549.0 1112.5 L2555.0 1115.1 L2561.0 1117.7 L2567.0 1120.3 L2573.0 1122.9 L2579.0 1125.6 L2585.0 1128.3 L2591.0 1131.0 L2597.0 1133.7 L2603.0 1136.4 L2609.0 1139.1 L2615.0 1141.9 L2621.0 1144.7 L2627.0 1147.4 L2633.0 1150.2 L2639.0 1153.0 L2645.0 1155.9 L2651.0 1158.7 L2657.0 1161.6 L2663.0 1164.4 L2669.0 1167.3 L2675.0 1170.2 L2681.0 1173.1 L2687.0 1176.0 L2693.0 1178.9 L2699.0 1181.8 L2705.0 1184.8 L2711.0 1187.7 L2717.0 1190.7 L2723.0 1193.7 L2729.0 1196.6 L2735.0 1199.6 L2741.0 1202.6 L2747.0 1205.6 L2753.0 1208.6 L2759.0 1211.7 L2765.0 1214.7 L2771.0 1217.7 L2777.0 1220.8 L2783.0 1223.8 L2789.0 1226.9 L2795.0 1229.9 L2801.0 1233.0 L2807.0 1236.1 L2813.0 1239.2 L2819.0 1242.3 L2825.0 1245.4 L2831.0 1248.5 L2837.0 1251.6 L2843.0 1254.7 L2849.0 1257.8 L2855.0 1260.9 L2861.0 1264.1 L2867.0 1267.2 L2873.0 1270.4 L2879.0 1273.6 L2885.0 1276.7 L2891.0 1279.9 L2897.0 1283.1 L2903.0 1286.3 L2909.0 1289.5 L2915.0 1292.7 L2921.0 1295.9 L2927.0 1299.1 L2933.0 1302.4 L2939.0 1305.6 L2945.0 1308.8 L2951.0 1312.1 L2957.0 1315.3 L2963.0 1318.6 L2969.0 1321.9 L2975.0 1325.2 L2981.0 1328.4 L2987.0 1331.7 L2993.0 1335.0 L2999.0 1338.3 L3005.0 1341.7 L3011.0 1345.0 L3017.0 1348.3 L3023.0 1351.6 L3029.0 1355.0 L3035.0 1358.3 L3041.0 1361.6 L3047.0 1365.0 L3053.0 1368.4 L3059.0 1371.7 L3065.0 1375.1 L3071.0 1378.5 L3077.0 1381.8 L3083.0 1385.2 L3089.0 1388.6 L3095.0 1392.0 L3101.0 1395.3 L3107.0 1398.7 L3113.0 1402.1 L3119.0 1405.5 L3125.0 1408.9 L3131.0 1412.3 L3137.0 1415.7 L3143.0 1419.1 L3149.0 1422.5 L3155.0 1425.9 L3161.0 1429.3 L3167.0 1432.6 L3173.0 1436.0 L3179.0 1439.4 L3185.0 1442.8 L3191.0 1446.2 L3197.0 1449.6 L3203.0 1453.0 L3209.0 1456.4 L3215.0 1459.8 L3221.0 1463.2 L3227.0 1466.6 L3233.0 1470.0 L3239.0 1473.3 L3245.0 1476.7 L3251.0 1480.1 L3252.5 1481.0" stroke="#6aadfe" stroke-width="25"/>
<path d="M317.0 832.6 L323.0 833.4 L329.0 834.1 L335.0 834.9 L341.0 835.7 L347.0 836.4 L353.0 837.2 L359.0 837.9 L365.0 838.7 L371.0 839.5 L377.0 840.2 L383.0 841.0 L389.0 841.8 L395.0 842.5 L401.0 843.3 L407.0 844.1 L413.0 844.9 L419.0 845.6 L425.0 846.4 L431.0 847.2 L437.0 848.0 L443.0 848.8 L449.0 849.6 L455.0 850.3 L461.0 851.1 L467.0 851.9 L473.0 852.7 L479.0 853.5 L485.0 854.3 L491.0 855.2 L497.0 856.0 L503.0 856.8 L509.0 857.6 L515.0 858.4 L521.0 859.3 L527.0 860.1 L533.0 860.9 L539.0 861.8 L545.0 862.6 L551.0 863.5 L557.0 864.3 L563.0 865.2 L569.0 866.1 L575.0 866.9 L581.0 867.8 L587.0 868.7 L593.0 869.6 L599.0 870.5 L605.0 871.4 L611.0 872.3 L617.0 873.2 L623.0 874.1 L629.0 875.0 L635.0 876.0 L641.0 876.9 L647.0 877.8 L653.0 878.8 L659.0 879.7 L665.0 880.7 L671.0 881.7 L677.0 882.6 L683.0 883.6 L689.0 884.6 L695.0 885.6 L701.0 886.6 L707.0 887.6 L713.0 888.6 L719.0 889.6 L725.0 890.6 L731.0 891.7 L737.0 892.7 L743.0 893.7 L749.0 894.8 L755.0 895.8 L761.0 896.9 L767.0 898.0 L773.0 899.0 L779.0 900.1 L785.0 901.2 L791.0 902.3 L797.0 903.4 L803.0 904.5 L809.0 905.6 L815.0 906.7 L821.0 907.9 L827.0 909.0 L833.0 910.2 L839.0 911.3 L845.0 912.5 L851.0 913.6 L857.0 914.8 L863.0 916.0 L869.0 917.2 L875.0 918.4 L881.0 919.6 L887.0 920.8 L893.0 922.0 L899.0 923.2 L905.0 924.5 L911.0 925.7 L917.0 927.0 L923.0 928.2 L929.0 929.5 L935.0 930.8 L941.0 932.1 L947.0 933.4 L953.0 934.7 L959.0 936.0 L965.0 937.3 L971.0 938.7 L977.0 940.0 L983.0 941.4 L989.0 942.7 L995.0 944.1 L1001.0 945.5 L1007.0 946.9 L1013.0 948.3 L1019.0 949.7 L1025.0 951.1 L1031.0 952.6 L1037.0 954.0 L1043.0 955.5 L1049.0 957.0 L1055.0 958.5 L1061.0 960.0 L1067.0 961.5 L1073.0 963.0 L1079.0 964.6 L1085.0 966.2 L1091.0 967.7 L1097.0 969.4 L1103.0 971.0 L1109.0 972.6 L1115.0 974.3 L1121.0 975.9 L1127.0 977.6 L1133.0 979.3 L1139.0 981.1 L1145.0 982.8 L1151.0 984.6 L1157.0 986.4 L1163.0 988.2 L1169.0 990.0 L1175.0 991.8 L1181.0 993.7 L1187.0 995.6 L1193.0 997.4 L1199.0 999.4 L1205.0 1001.3 L1211.0 1003.2 L1217.0 1005.2 L1223.0 1007.1 L1229.0 1009.1 L1235.0 1011.1 L1241.0 1013.2 L1247.0 1015.2 L1253.0 1017.2 L1259.0 1019.3 L1265.0 1021.4 L1271.0 1023.5 L1277.0 1025.6 L1283.0 1027.7 L1289.0 1029.8 L1295.0 1032.0 L1301.0 1034.2 L1307.0 1036.3 L1313.0 1038.5 L1319.0 1040.7 L1325.0 1042.9 L1331.0 1045.2 L1337.0 1047.4 L1343.0 1049.7 L1349.0 1051.9 L1355.0 1054.2 L1361.0 1056.5 L1367.0 1058.8 L1373.0 1061.2 L1379.0 1063.5 L1385.0 1065.9 L1391.0 1068.2 L1397.0 1070.6 L1403.0 1073.0 L1409.0 1075.5 L1415.0 1077.9 L1421.0 1080.3 L1427.0 1082.8 L1433.0 1085.3 L1439.0 1087.8 L1445.0 1090.3 L1451.0 1092.8 L1457.0 1095.3 L1463.0 1097.9 L1469.0 1100.4 L1475.0 1103.0 L1481.0 1105.6 L1487.0 1108.2 L1493.0 1110.8 L1499.0 1113.4 L1505.0 1116.0 L1511.0 1118.7 L1517.0 1121.3 L1523.0 1124.0 L1529.0 1126.7 L1535.0 1129.4 L1541.0 1132.1 L1547.0 1134.8 L1553.0 1137.6 L1559.0 1140.3 L1565.0 1143.1 L1571.0 1145.9 L1577.0 1148.7 L1583.0 1151.5 L1589.0 1154.3 L1595.0 1157.1 L1601.0 1160.0 L1607.0 1162.8 L1613.0 1165.7 L1619.0 1168.6 L1625.0 1171.5 L1631.0 1174.4 L1637.0 1177.3 L1643.0 1180.3 L1649.0 1183.2 L1655.0 1186.2 L1661.0 1189.2 L1667.0 1192.2 L1673.0 1195.2 L1679.0 1198.2 L1685.0 1201.2 L1691.0 1204.2 L1697.0 1207.3 L1703.0 1210.3 L1709.0 1213.4 L1715.0 1216.5 L1721.0 1219.6 L1727.0 1222.7 L1733.0 1225.8 L1739.0 1228.9 L1745.0 1232.0 L1751.0 1235.2 L1757.0 1238.3 L1763.0 1241.5 L1769.0 1244.6 L1775.0 1247.8 L1781.0 1251.0 L1787.0 1254.2 L1793.0 1257.4 L1799.0 1260.6 L1805.0 1263.9 L1811.0 1267.1 L1817.0 1270.3 L1823.0 1273.6 L1829.0 1276.9 L1835.0 1280.1 L1841.0 1283.4 L1847.0 1286.7 L1853.0 1290.0 L1859.0 1293.3 L1865.0 1296.6 L1871.0 1300.0 L1877.0 1303.3 L1883.0 1306.7 L1889.0 1310.0 L1895.0 1313.4 L1901.0 1316.8 L1907.0 1320.2 L1913.0 1323.6 L1919.0 1327.0 L1925.0 1330.4 L1931.0 1333.9 L1937.0 1337.3 L1943.0 1340.8 L1949.0 1344.2 L1955.0 1347.7 L1961.0 1351.2 L1967.0 1354.7 L1973.0 1358.2 L1979.0 1361.7 L1985.0 1365.2 L1991.0 1368.7 L1997.0 1372.2 L2003.0 1375.8 L2009.0 1379.3 L2015.0 1382.9 L2021.0 1386.5 L2027.0 1390.0 L2033.0 1393.6 L2039.0 1397.2 L2045.0 1400.8 L2051.0 1404.4 L2057.0 1408.0 L2063.0 1411.6 L2069.0 1415.3 L2075.0 1418.9 L2081.0 1422.6 L2087.0 1426.2 L2093.0 1429.9 L2099.0 1433.5 L2105.0 1437.2 L2111.0 1440.9 L2117.0 1444.5 L2123.0 1448.2 L2129.0 1451.9 L2135.0 1455.6 L2141.0 1459.3 L2147.0 1463.0 L2153.0 1466.8 L2159.0 1470.5 L2165.0 1474.2 L2171.0 1477.9 L2177.0 1481.7 L2183.0 1485.4 L2189.0 1489.2 L2195.0 1492.9 L2201.0 1496.7 L2207.0 1500.4 L2213.0 1504.2 L2219.0 1508.0 L2225.0 1511.7 L2231.0 1515.5 L2237.0 1519.3 L2243.0 1523.1 L2249.0 1526.9 L2255.0 1530.7 L2261.0 1534.5 L2267.0 1538.3 L2273.0 1542.1 L2279.0 1545.9 L2285.0 1549.7 L2291.0 1553.5 L2297.0 1557.4 L2303.0 1561.2 L2309.0 1565.0 L2315.0 1568.9 L2321.0 1572.7 L2327.0 1576.6 L2333.0 1580.4 L2339.0 1584.2 L2345.0 1588.1 L2351.0 1591.9 L2357.0 1595.8 L2363.0 1599.6 L2365.7 1601.4" stroke="#2300ff" stroke-width="24"/>
</g>
<g font-size="56" fill="#000" text-anchor="end">
<text x="263" y="234.0">60</text>
<text x="263" y="486.8">50</text>
<text x="263" y="737.3">40</text>
<text x="263" y="990.4">30</text>
<text x="263" y="1243.6">20</text>
<text x="263" y="1493.8">10</text>
<text x="263" y="1746.9">0</text>
</g>
<g font-size="56" fill="#000" text-anchor="middle">
<text x="317.1" y="1825">0</text>
<text x="838.8" y="1825">20</text>
<text x="1360.7" y="1825">40</text>
<text x="1882.3" y="1825">60</text>
<text x="2401.3" y="1825">80</text>
<text x="2923.0" y="1825">100</text>
<text x="3444.9" y="1825">120</text>
</g>
<text x="0" y="0" transform="translate(133 945.3) rotate(-90)" text-anchor="middle" font-size="85" font-weight="bold" fill="#000" textLength="372" lengthAdjust="spacingAndGlyphs">Head (M)</text>
<text x="1897" y="1968" text-anchor="middle" font-size="97" font-weight="bold" fill="#000" textLength="507" lengthAdjust="spacingAndGlyphs">Flow (LPM)</text>
<g font-size="86">
<text x="2260.6" y="552.2" fill="#fc8205">CMS45</text>
<text x="1898" y="644.3" fill="#4dfb5f">CMS44</text>
<text x="1577.7" y="848" fill="#68a9f8">CMS43</text>
<text x="1991.3" y="1639" fill="#2a08ef">CMS23</text>
</g>
</svg>
</body></html>
